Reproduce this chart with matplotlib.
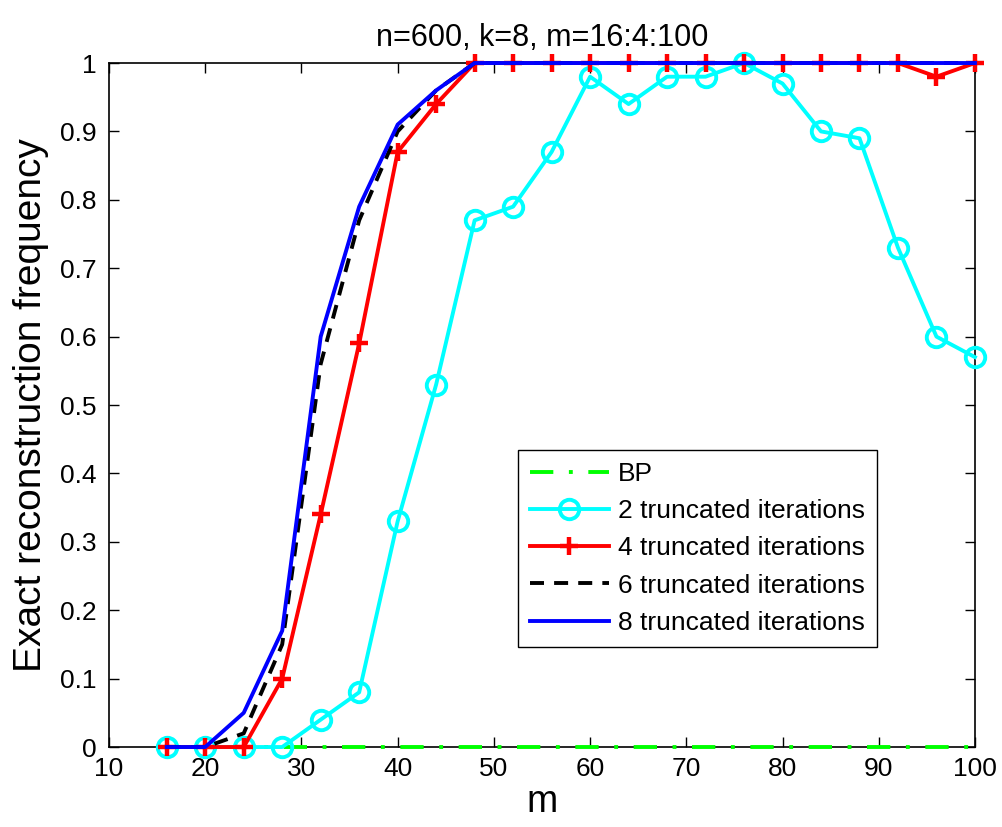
import numpy as np
import matplotlib
matplotlib.use('Agg')
from matplotlib import pyplot as plt

plt.rcParams['font.family'] = ['Liberation Sans', 'DejaVu Sans']

m = [16, 20, 24, 28, 32, 36, 40, 44, 48, 52, 56, 60, 64, 68, 72, 76, 80, 84, 88, 92, 96, 100]

bp = [0] * 22
it2 = [0, 0, 0, 0, 0.04, 0.08, 0.33, 0.53, 0.77, 0.79, 0.87, 0.98, 0.94, 0.98, 0.98, 1.0,
       0.97, 0.90, 0.89, 0.73, 0.60, 0.57]
it4 = [0, 0, 0, 0.10, 0.34, 0.59, 0.87, 0.94, 1, 1, 1, 1, 1, 1, 1, 1, 1, 1, 1, 1, 0.98, 1]
it6 = [0, 0, 0.02, 0.15, 0.56, 0.77, 0.90, 0.96, 1, 1, 1, 1, 1, 1, 1, 1, 1, 1, 1, 1, 1, 1]
it8 = [0, 0, 0.05, 0.17, 0.60, 0.79, 0.91, 0.96, 1, 1, 1, 1, 1, 1, 1, 1, 1, 1, 1, 1, 1, 1]

labels = ['BP', '2 truncated iterations', '4 truncated iterations',
          '6 truncated iterations', '8 truncated iterations']

fig = plt.figure(figsize=(10.02, 8.27), dpi=100)
ax = fig.add_axes([0.1088, 0.0967, 0.8642, 0.8271])

lw = 2.8
kw = dict(clip_on=False, zorder=3)
ax.plot(m, bp, '-.', color=(0, 1, 0), lw=lw, label=labels[0], dashes=(6, 4, 1, 4), **kw)
ax.plot(m, it2, '-o', color=(0, 1, 1), lw=lw, ms=14, mfc='none', mew=2.8, label=labels[1], **kw)
ax.plot(m, it4, '-+', color=(1, 0, 0), lw=lw, ms=13, mew=3.2, label=labels[2], **kw)
ax.plot(m, it6, '--', color='k', lw=lw, dashes=(3.6, 2.6), label=labels[3], **kw)
ax.plot(m, it8, '-', color=(0, 0, 1), lw=lw, label=labels[4], **kw)

ax.set_xlim(10, 100)
ax.set_ylim(0, 1)
ax.set_xticks(np.arange(10, 101, 10))
ax.set_yticks(np.arange(0, 1.01, 0.1))
ax.set_yticklabels(['0', '0.1', '0.2', '0.3', '0.4', '0.5', '0.6', '0.7', '0.8', '0.9', '1'])
ax.tick_params(direction='in', top=True, right=True, labelsize=19, length=7, width=1)
ax.tick_params(axis='y', pad=9)
ax.tick_params(axis='x', pad=7)
for s in ax.spines.values():
    s.set_linewidth(1.2)

ax.set_title('n=600, k=8, m=16:4:100', fontsize=22, pad=12)
ax.set_xlabel('m', fontsize=27, labelpad=2)
ax.set_ylabel('Exact reconstruction frequency', fontsize=28, labelpad=8)

leg = ax.legend(loc='upper left', bbox_to_anchor=(0.4723, 0.434), fontsize=19,
                frameon=True, fancybox=False, edgecolor='k', framealpha=1,
                borderaxespad=0, handlelength=3.0, borderpad=0.45,
                labelspacing=0.5, handletextpad=0.35)
leg.get_frame().set_linewidth(1.0)
leg.set_zorder(5)

plt.savefig('out.png', dpi=100)
